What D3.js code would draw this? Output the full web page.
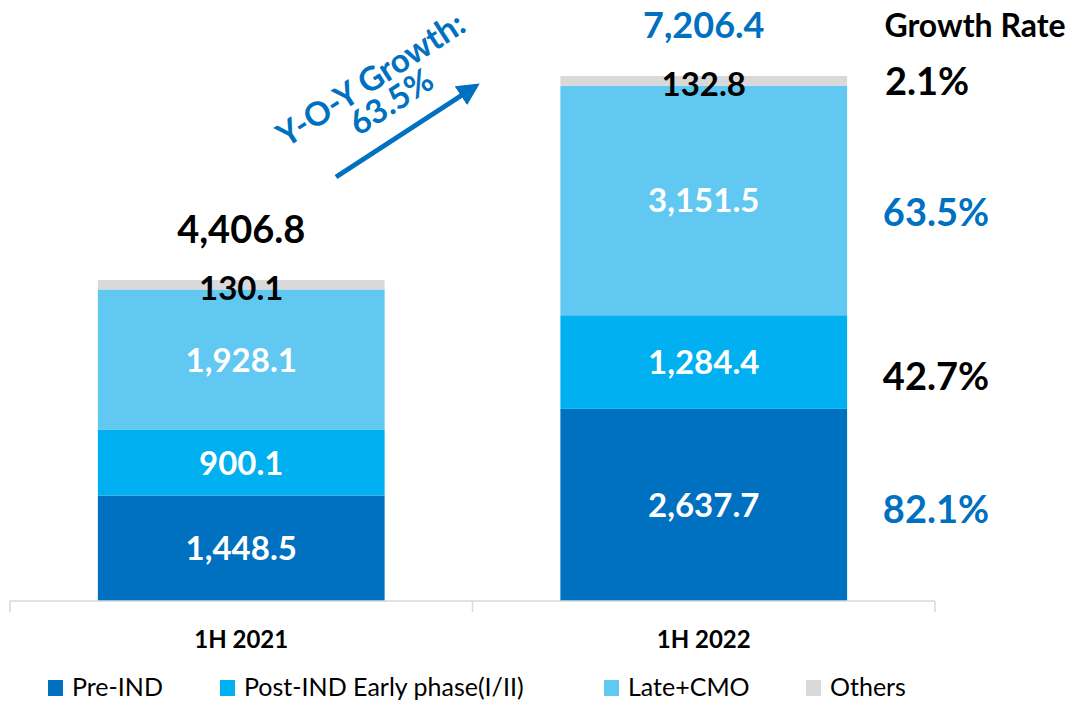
<!DOCTYPE html>
<html lang="en">
<head>
<meta charset="UTF-8">
<title>Revenue by stage</title>
<script src="https://d3js.org/d3.v7.min.js"></script>
<style>
  body { margin: 0; background: #fff; }
  text { font-family: Lato, "Open Sans", sans-serif; }
</style>
</head>
<body>
<div id="chart"></div>
<script>
// data
const periods = ["1H 2021", "1H 2022"];
const series = ["Pre-IND", "Post-IND Early phase(I/II)", "Late+CMO", "Others"];
const colors = ["#0070C0", "#00B0F0", "#61C8F2", "#D9D9D9"];
const preIND = [1448.5, 2637.7];
const postIND = [900.1, 1284.4];
const lateCMO = [1928.1, 3151.5];
const others = [130.1, 132.8];
const totals = [4406.8, 7206.4];
const growthRates = ["82.1%", "42.7%", "63.5%", "2.1%"];
const growthColors = ["#0070C0", "#000", "#0070C0", "#000"];
const yoyText = ["Y-O-Y Growth:", "63.5%"];

const W = 1078, H = 702;
const svg = d3.select("#chart").append("svg").attr("width", W).attr("height", H);

const rows = periods.map((p, i) => ({
  period: p,
  "Pre-IND": preIND[i],
  "Post-IND Early phase(I/II)": postIND[i],
  "Late+CMO": lateCMO[i],
  "Others": others[i]
}));
const stacked = d3.stack().keys(series)(rows);

const x = d3.scaleBand().domain(periods).range([10, 935]).paddingInner(0.38).paddingOuter(0.19);
const y = d3.scaleLinear().domain([0, 7206.4]).range([601, 76]);

// bars
stacked.forEach((s, k) => {
  svg.selectAll(null).data(s).enter().append("rect")
    .attr("x", d => x(d.data.period))
    .attr("width", x.bandwidth())
    .attr("y", d => y(d[1]))
    .attr("height", d => y(d[0]) - y(d[1]))
    .attr("fill", colors[k]);
});

// axis
const axis = svg.append("g").attr("transform", "translate(0,601)");
axis.append("line").attr("x1", 10).attr("x2", 935).attr("stroke", "#d9d9d9").attr("stroke-width", 1.5);
[10, 10 + x.step(), 935].forEach(t => {
  axis.append("line").attr("x1", t).attr("x2", t).attr("y1", 0).attr("y2", 11)
    .attr("stroke", "#d9d9d9").attr("stroke-width", 1.5);
});
svg.selectAll(".cat").data(periods).enter().append("text")
  .attr("x", d => x(d) + x.bandwidth() / 2).attr("y", 648)
  .attr("text-anchor", "middle").attr("font-weight", 700).attr("font-size", 24)
  .text(d => d);

// segment labels
stacked.forEach((s, k) => {
  svg.selectAll(null).data(s).enter().append("text")
    .attr("x", d => x(d.data.period) + x.bandwidth() / 2)
    .attr("y", d => k === 3 ? y(d[1]) + 20 : (y(d[0]) + y(d[1])) / 2 + 12)
    .attr("text-anchor", "middle").attr("font-weight", 700).attr("font-size", 33)
    .attr("fill", k === 3 ? "#000" : "#fff")
    .text(d => d3.format(",.1f")(d[1] - d[0]));
});

// totals
svg.selectAll(".tot").data(totals).enter().append("text")
  .attr("x", (d, i) => x(periods[i]) + x.bandwidth() / 2)
  .attr("y", (d, i) => i === 0 ? y(d) - 37 : y(d) - 38)
  .attr("text-anchor", "middle").attr("font-weight", 700)
  .attr("font-size", (d, i) => i === 0 ? 38 : 36)
  .attr("fill", (d, i) => i === 0 ? "#000" : "#0070C0")
  .text(d => d3.format(",.1f")(d));

// growth rate column
svg.append("text").attr("x", 975).attr("y", 37).attr("text-anchor", "middle")
  .attr("font-weight", 700).attr("font-size", 32).text("Growth Rate");
const last = stacked.map(s => s[1]);
const gOff = [18, 28, 26, 14];
svg.selectAll(".gr").data(growthRates).enter().append("text")
  .attr("x", (d, i) => i === 3 ? 927 : 936)
  .attr("y", (d, i) => (y(last[i][0]) + y(last[i][1])) / 2 + gOff[i])
  .attr("text-anchor", "middle").attr("font-weight", 700).attr("font-size", 38)
  .attr("fill", (d, i) => growthColors[i])
  .text(d => d);

// y-o-y arrow
const defs = svg.append("defs");
defs.append("marker").attr("id", "ah").attr("viewBox", "0 0 10 10")
  .attr("refX", 8).attr("refY", 5).attr("markerWidth", 4.5).attr("markerHeight", 4.5)
  .attr("orient", "auto")
  .append("path").attr("d", "M0,0 L10,5 L0,10 Z").attr("fill", "#0070C0");
svg.append("line").attr("x1", 336).attr("y1", 177).attr("x2", 476).attr("y2", 86)
  .attr("stroke", "#0070C0").attr("stroke-width", 5).attr("marker-end", "url(#ah)");
const yoy = svg.append("g").attr("transform", "translate(377,89) rotate(-33)");
yoy.selectAll("text").data(yoyText).enter().append("text")
  .attr("x", (d, i) => i * 5).attr("y", (d, i) => i * 30)
  .attr("text-anchor", "middle").attr("font-weight", 700).attr("font-size", 33)
  .attr("fill", "#0070C0").text(d => d);

// legend
const legX = [48, 220, 604, 806];
const leg = svg.selectAll(".leg").data(series).enter().append("g")
  .attr("transform", (d, i) => `translate(${legX[i]},680)`);
leg.append("rect").attr("width", 15).attr("height", 16).attr("fill", (d, i) => colors[i]);
leg.append("text").attr("x", 24).attr("y", 16).attr("font-size", 25).text(d => d);
</script>
</body>
</html>
